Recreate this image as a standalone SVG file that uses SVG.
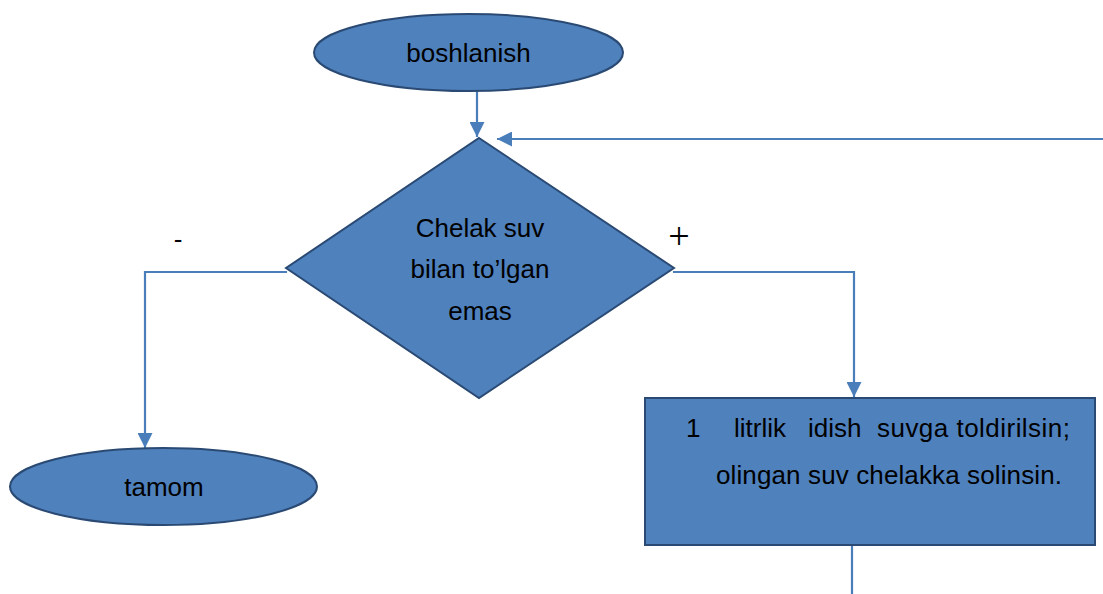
<svg xmlns="http://www.w3.org/2000/svg" width="1103" height="594" viewBox="0 0 1103 594">
  <style>
    .shape { fill: #4F81BD; stroke: #2A4A73; stroke-width: 2; }
    .conn { fill: none; stroke: #4A7EBB; stroke-width: 2.2; }
    .lbl { font-family: "Liberation Sans", Arial, sans-serif; font-size: 26px; fill: #000; }
    .mid { text-anchor: middle; }
  </style>
  <defs>
    <marker id="arrow" viewBox="0 0 10 10" refX="10" refY="5" markerWidth="15" markerHeight="15" markerUnits="userSpaceOnUse" orient="auto">
      <path d="M0,0 L10,5 L0,10 Z" fill="#4A7EBB"/>
    </marker>
  </defs>

  <!-- connectors -->
  <g id="connectors">
    <path class="conn" d="M477,91 V137" marker-end="url(#arrow)"/>
    <path class="conn" d="M1103,139 H497" marker-end="url(#arrow)"/>
    <path class="conn" d="M287,272 H145 V448" marker-end="url(#arrow)"/>
    <path class="conn" d="M673,272 H854 V397" marker-end="url(#arrow)"/>
    <path class="conn" d="M852,545 V594"/>
    <text class="lbl" x="178" y="248" text-anchor="middle" font-size="28">-</text>
    <text x="679" y="249" text-anchor="middle" font-family="'Liberation Serif', serif" font-size="38" fill="#000">+</text>
  </g>

  <!-- start -->
  <g id="start">
    <ellipse class="shape" cx="468.5" cy="52.5" rx="154.5" ry="38.5"/>
    <text class="lbl mid" x="468.5" y="62">boshlanish</text>
  </g>

  <!-- decision -->
  <g id="decision">
    <polygon class="shape" points="479,138 674,268 479,398 286,268"/>
    <text class="lbl mid" x="480" y="237">Chelak suv</text>
    <text class="lbl mid" x="480" y="278">bilan to’lgan</text>
    <text class="lbl mid" x="480" y="320">emas</text>
  </g>

  <!-- end -->
  <g id="end">
    <ellipse class="shape" cx="163.5" cy="486.5" rx="153.5" ry="38.5"/>
    <text class="lbl mid" x="164" y="496" font-size="27.5">tamom</text>
  </g>

  <!-- process -->
  <g id="process">
    <rect class="shape" x="645" y="398" width="450" height="147"/>
    <text class="lbl" y="437">
      <tspan x="686">1</tspan>
      <tspan x="734">litrlik</tspan>
      <tspan x="808">idish</tspan>
      <tspan x="877" textLength="193">suvga toldirilsin;</tspan>
    </text>
    <text class="lbl" x="716" y="484" textLength="346">olingan suv chelakka solinsin.</text>
  </g>
</svg>
